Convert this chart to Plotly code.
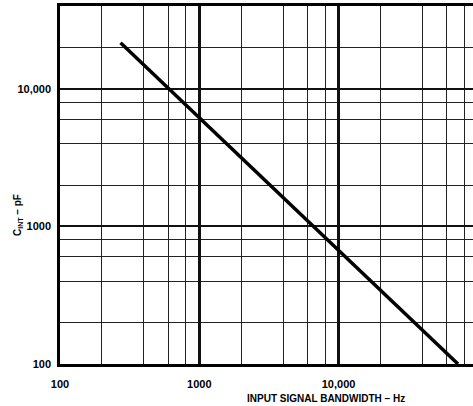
import plotly.graph_objects as go
import math

# Data (log-log, straight line)
bandwidth_hz = [272, 72000]
c_int_pf = [21600, 100]

x_major = [100, 1000, 10000]
x_major_text = ["100", "1000", "10,000"]
x_minor = [200, 400, 600, 800, 2000, 4000, 6000, 8000, 20000, 40000, 60000, 80000]
y_major = [100, 1000, 10000]
y_major_text = ["100", "1000", "10,000"]
y_minor = [200, 400, 600, 800, 2000, 4000, 6000, 8000, 20000]

x_title = "INPUT SIGNAL BANDWIDTH – Hz"
y_title = "C<sub>INT</sub> – pF"

fig = go.Figure()
fig.add_trace(go.Scatter(
    x=bandwidth_hz, y=c_int_pf, mode="lines",
    line=dict(color="black", width=3.5), hoverinfo="skip", showlegend=False,
))

font_fam = "Liberation Sans, Arial, sans-serif"

fig.update_xaxes(
    type="log", range=[2, 4.965], automargin=False,
    tickmode="array", tickvals=x_major, ticktext=x_major_text,
    showgrid=True, gridcolor="#111", gridwidth=3,
    minor=dict(tickmode="array", tickvals=x_minor, showgrid=True,
               gridcolor="#222", gridwidth=1.3, ticks=""),
    showline=True, linecolor="black", linewidth=2.5, mirror=True,
    ticks="", ticklabelstandoff=8,
    tickfont=dict(family=font_fam, size=11, color="black", weight="bold"),
    zeroline=False,
)
fig.update_yaxes(
    type="log", range=[2, math.log10(40000)], automargin=False,
    tickmode="array", tickvals=y_major, ticktext=y_major_text,
    showgrid=True, gridcolor="#111", gridwidth=2,
    minor=dict(tickmode="array", tickvals=y_minor, showgrid=True,
               gridcolor="#222", gridwidth=1.3, ticks=""),
    showline=True, linecolor="black", linewidth=2.5,
    ticks="", ticklabelstandoff=4,
    tickfont=dict(family=font_fam, size=11, color="black", weight="bold"),
    zeroline=False,
)

fig.add_annotation(
    text=x_title, xref="paper", yref="paper", x=(326 - 60) / 413, y=-(398 - 364) / 358,
    xanchor="center", yanchor="middle", showarrow=False,
    font=dict(family=font_fam, size=10, color="black", weight="bold"),
)
fig.add_annotation(
    text=y_title, xref="paper", yref="paper", x=(18 - 60) / 413, y=(364 - 215) / 358,
    xanchor="center", yanchor="middle", showarrow=False, textangle=-90,
    font=dict(family=font_fam, size=10, color="black", weight="bold"),
)

fig.update_layout(
    width=473, height=406,
    margin=dict(l=60, r=0, t=6, b=42, autoexpand=False),
    paper_bgcolor="white", plot_bgcolor="white",
    showlegend=False,
)

fig.write_html(
    "out.html",
    config={"displayModeBar": False},
    post_script="document.body.style.margin='0px';document.body.style.overflow='hidden';",
)
